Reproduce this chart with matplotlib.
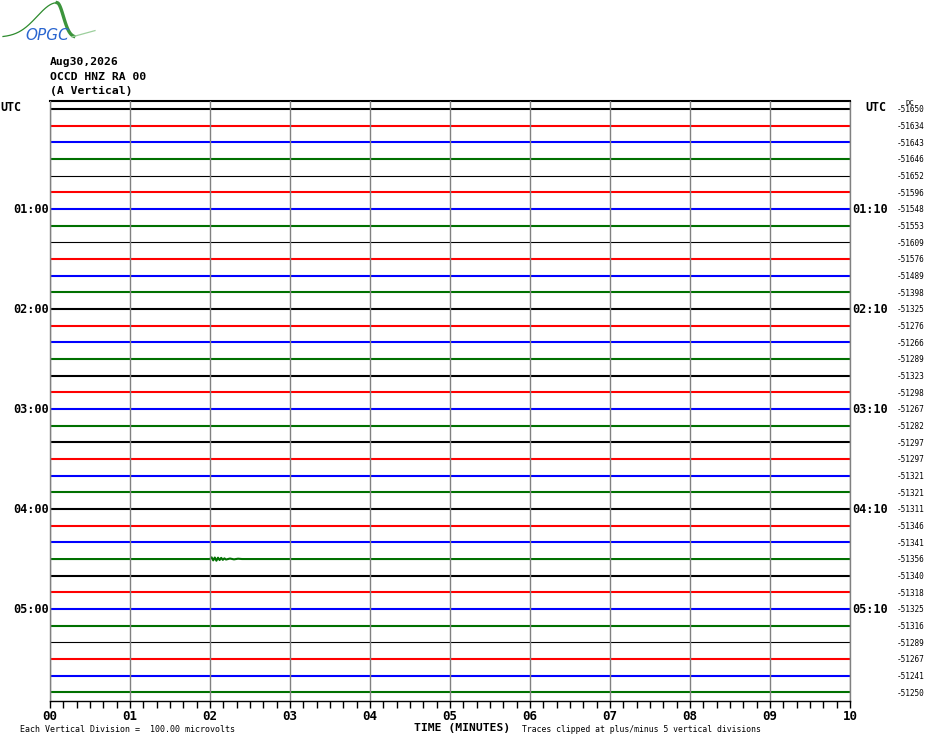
import matplotlib.pyplot as plt
from matplotlib.transforms import blended_transform_factory
import numpy as np

W, H = 930, 744  # output size in pixels

# one line per 10 minutes, 6 hours
hour_labels_left = ['UTC', '01:00', '02:00', '03:00', '04:00', '05:00']
hour_labels_right = ['UTC', '01:10', '02:10', '03:10', '04:10', '05:10']
dc_offsets = [
    -51650, -51634, -51643, -51646, -51652, -51596,
    -51548, -51553, -51609, -51576, -51489, -51398,
    -51325, -51276, -51266, -51289, -51323, -51298,
    -51267, -51282, -51297, -51297, -51321, -51321,
    -51311, -51346, -51341, -51356, -51340, -51318,
    -51325, -51316, -51289, -51267, -51241, -51250,
]
minute_ticks = ['00', '01', '02', '03', '04', '05', '06', '07', '08', '09', '10']

# small local event on the 04:30 line (minutes, microvolts)
event_line = 27
event_minutes = [2.00, 2.02, 2.04, 2.06, 2.08, 2.10, 2.12, 2.14, 2.16,
                 2.18, 2.20, 2.25, 2.30, 2.35, 2.40]
event_microvolts = [0, 10, -8, 9, -10, 8, -6, 7, -5, 4, -3, 3, -2, 2, 0]

MICROVOLTS_PER_DIVISION = 100.0
TRACE_COLORS = ['#000000', '#ff0000', '#0000ff', '#007000']
THIN_LINES = [4, 8, 32]
MONO = 'DejaVu Sans Mono'

fig = plt.figure(figsize=(W / 100, H / 100), dpi=100)
ax = fig.add_axes([50 / W, 1 - 700.7 / H, 800 / W, 600 / H])

n_lines = len(dc_offsets)
for i in range(n_lines):
    color = TRACE_COLORS[i % 4]
    lw = 0.8 if i in THIN_LINES else 1.5
    xs = [0, 10]
    ys = [i, i]
    if i == event_line:
        xs = [0] + event_minutes + [10]
        ys = [i] + [i - v / MICROVOLTS_PER_DIVISION for v in event_microvolts] + [i]
    ax.plot(xs, ys, color=color, lw=lw, solid_capstyle='butt')

ax.set_xlim(0, 10)
ax.set_ylim(n_lines - 0.5, -0.5)
ax.set_yticks([])

# minute grid on top of traces
ax.set_xticks(range(11))
ax.set_xticklabels(minute_ticks, fontfamily=MONO, fontweight='bold', fontsize=9)
ax.set_xticks(np.arange(0, 10.01, 1 / 6), minor=True)
ax.tick_params(axis='x', which='both', direction='out', length=5, width=1, color='black', pad=2)
ax.set_axisbelow(False)
ax.grid(axis='x', color='#808080', lw=1)

ax.spines['top'].set_color('black')
ax.spines['top'].set_linewidth(1.5)
ax.spines['bottom'].set_color('black')
ax.spines['bottom'].set_linewidth(1)
for side in ['left', 'right']:
    ax.spines[side].set_color('#808080')
    ax.spines[side].set_linewidth(1)

# labels on both sides of the lines
trans = blended_transform_factory(fig.transFigure, ax.transData)
for k, (left, right) in enumerate(zip(hour_labels_left, hour_labels_right)):
    row = k * 6
    if k == 0:
        ax.text(0 / W, row - 0.1, left, transform=trans, ha='left', va='center',
                fontfamily=MONO, fontweight='bold', fontsize=8.4)
        ax.text(865 / W, row - 0.1, right, transform=trans, ha='left', va='center',
                fontfamily=MONO, fontweight='bold', fontsize=8.4)
    else:
        ax.text(49 / W, row, left, transform=trans, ha='right', va='center',
                fontfamily=MONO, fontweight='bold', fontsize=8.6)
        ax.text(852 / W, row, right, transform=trans, ha='left', va='center',
                fontfamily=MONO, fontweight='bold', fontsize=8.6)

for i, dc in enumerate(dc_offsets):
    ax.text(897 / W, i + 0.05, str(dc), transform=trans, ha='left', va='center',
            fontfamily=MONO, fontsize=5.6)
ax.text(905 / W, -0.35, 'DC', transform=trans, ha='left', va='center',
        fontfamily=MONO, fontsize=5.2)

# header
for j, line in enumerate(['Aug30,2026', 'OCCD HNZ RA 00', '(A Vertical)']):
    fig.text(50 / W, 1 - (62 + j * 14.7) / H, line, ha='left', va='center',
             fontfamily=MONO, fontweight='bold', fontsize=8.2)

# footer
fig.text(462 / W, 1 - 728 / H, 'TIME (MINUTES)', ha='center', va='center',
         fontfamily=MONO, fontweight='bold', fontsize=8.2)
fig.text(20 / W, 1 - 730 / H, 'Each Vertical Division =  100.00 microvolts',
         ha='left', va='center', fontfamily=MONO, fontsize=6)
fig.text(522 / W, 1 - 730 / H, 'Traces clipped at plus/minus 5 vertical divisions',
         ha='left', va='center', fontfamily=MONO, fontsize=5.9)

# OPGC logo: gentle rise on the left, steep drop on the right
logo = fig.add_axes([0, 1 - 45 / H, 100 / W, 45 / H])
lx = np.linspace(0.03, 0.95, 300)
width = np.where(lx < 0.57, 0.28, 0.09)
ly = 0.17 + 0.77 * np.exp(-((lx - 0.57) / width) ** 2)
left_part = lx < 0.57
logo.plot(lx[left_part], ly[left_part], color='#2e8b2e', lw=0.9)
logo.plot(lx[~left_part & (lx < 0.74)], ly[~left_part & (lx < 0.74)], color='#3c943c', lw=2.4)
logo.plot([0.72, 0.95], [0.18, 0.32], color='#9ccf9c', lw=0.9)
logo.text(0.47, 0.22, 'OPGC', ha='center', va='center', color='#2a66d0',
          fontsize=11, style='italic', fontfamily='DejaVu Sans')
logo.set_xlim(0, 1)
logo.set_ylim(0, 1)
logo.axis('off')

fig.savefig('out.png', dpi=100)
